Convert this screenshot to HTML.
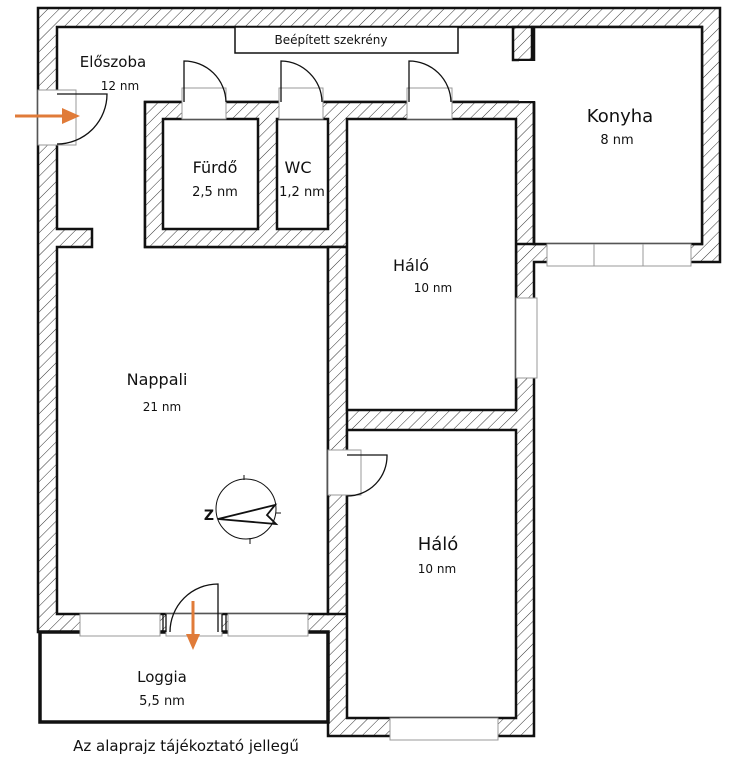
<!DOCTYPE html>
<html><head><meta charset="utf-8"><style>
body{margin:0;background:#fff;}
svg{display:block;}
text{font-family:"DejaVu Sans","Liberation Sans",sans-serif;fill:#111;text-anchor:middle;}
</style></head><body>
<svg width="756" height="768" viewBox="0 0 756 768" xmlns="http://www.w3.org/2000/svg">
<defs>
<pattern id="h" width="8" height="8" patternUnits="userSpaceOnUse" patternTransform="rotate(45)">
<rect width="8" height="8" fill="#fff"/><line x1="0" y1="0" x2="0" y2="8" stroke="#333" stroke-width="1"/>
</pattern>
</defs>
<!-- outer hatched mass -->
<polygon points="38,8 720,8 720,262 534,262 534,736 328,736 328,632 38,632" fill="url(#h)" stroke="#111" stroke-width="2.5"/>
<!-- hall + nappali -->
<polygon points="57,27 702,27 702,244 534,244 534,102 145,102 145,247 328,247 328,614 57,614 57,247 92,247 92,229 57,229" fill="#fff" stroke="#111" stroke-width="2.5"/>
<!-- inner block hatched -->
<polygon points="145,102 534,102 534,244 516,244 516,262 516,410 347,410 347,247 145,247" fill="url(#h)" stroke="#111" stroke-width="2.5"/>
<rect x="347" y="410" width="169" height="20" fill="url(#h)"/>
<rect x="328" y="247" width="19" height="367" fill="url(#h)" stroke="#111" stroke-width="2.5"/>
<!-- top stub -->
<rect x="513" y="27" width="19" height="33" fill="url(#h)" stroke="#111" stroke-width="2.5"/>
<!-- rooms -->
<rect x="163" y="119" width="95" height="110" fill="#fff" stroke="#111" stroke-width="2.5"/>
<rect x="277" y="119" width="51" height="110" fill="#fff" stroke="#111" stroke-width="2.5"/>
<rect x="347" y="119" width="169" height="291" fill="#fff" stroke="#111" stroke-width="2.5"/>
<rect x="347" y="430" width="169" height="288" fill="#fff" stroke="#111" stroke-width="2.5"/>
<rect x="534" y="27" width="168" height="217" fill="#fff" stroke="#111" stroke-width="2.5"/>
<polygon points="534,244 534,102 516,102" fill="none"/>
<!-- hall opening into kitchen -->
<rect x="519" y="61" width="26" height="40" fill="#fff"/>
<line x1="534" y1="102" x2="534" y2="244" stroke="#111" stroke-width="2.5"/>
<!-- loggia -->
<rect x="40" y="632" width="288" height="90" fill="#fff" stroke="#111" stroke-width="3.5"/>
<!-- cabinet -->
<rect x="235" y="27" width="223" height="26" fill="#fff" stroke="#111" stroke-width="1.5"/>
<text x="331" y="44" font-size="12">Beépített szekrény</text>
<!-- windows -->
<g fill="#fff" stroke="#999" stroke-width="1">
<rect x="547" y="244" width="47" height="22"/><rect x="594" y="244" width="49" height="22"/><rect x="643" y="244" width="48" height="22"/>
<rect x="516" y="298" width="21" height="80"/>
<rect x="390" y="718" width="108" height="22"/>
<rect x="80" y="614" width="80" height="22"/><rect x="228" y="614" width="80" height="22"/>
</g>
<!-- door frames -->
<g fill="#fff" stroke="#999" stroke-width="1">
<rect x="182" y="88" width="44" height="31"/><rect x="279" y="88" width="44" height="31"/><rect x="407" y="88" width="45" height="31"/>
<rect x="38" y="90" width="38" height="55"/>
<rect x="328" y="450" width="33" height="45"/>
<rect x="166" y="614" width="56" height="22"/>
</g>
<g fill="none" stroke="#111" stroke-width="1.3">
<path d="M184,102 V61 A42,42 0 0 1 226,102"/>
<path d="M281,102 V61 A42,42 0 0 1 322,102"/>
<path d="M409,102 V61 A42,42 0 0 1 451,102"/>
<path d="M57,144 A50,50 0 0 0 107,94 H57"/>
<path d="M347,496 A40,40 0 0 0 387,455 H347"/>
<path d="M170,632 A48,48 0 0 1 218,584 V632"/>
<line x1="163" y1="614" x2="163" y2="632"/><line x1="166" y1="614" x2="166" y2="632"/>
<line x1="222" y1="614" x2="222" y2="632"/><line x1="226" y1="614" x2="226" y2="632"/>
</g>
<!-- arrows -->
<g stroke="#e07b39" stroke-width="3" fill="#e07b39">
<line x1="15" y1="116" x2="66" y2="116"/><polygon points="62,108 80,116 62,124" stroke="none"/>
<line x1="193" y1="601" x2="193" y2="636"/><polygon points="186,634 193,650 200,634" stroke="none"/>
</g>
<!-- compass -->
<g fill="none" stroke="#111" stroke-width="1">
<circle cx="246" cy="509" r="30"/>
<line x1="244" y1="475" x2="244" y2="480"/><line x1="250" y1="538" x2="250" y2="544"/><line x1="276" y1="513" x2="281" y2="513"/>
<polygon points="218,519 275,505 267,515 276,524" stroke-width="1.8"/>
</g>
<text x="209" y="520" font-size="14" font-weight="bold">Z</text>
<!-- labels -->
<text x="113" y="67" font-size="15">Előszoba</text>
<text x="120" y="90" font-size="12">12 nm</text>
<text x="215" y="173" font-size="16">Fürdő</text>
<text x="215" y="196" font-size="13">2,5 nm</text>
<text x="298" y="173" font-size="16">WC</text>
<text x="302" y="196" font-size="13">1,2 nm</text>
<text x="620" y="122" font-size="18">Konyha</text>
<text x="617" y="144" font-size="13">8 nm</text>
<text x="411" y="271" font-size="16">Háló</text>
<text x="433" y="292" font-size="12">10 nm</text>
<text x="157" y="385" font-size="16">Nappali</text>
<text x="162" y="411" font-size="12">21 nm</text>
<text x="438" y="550" font-size="18">Háló</text>
<text x="437" y="573" font-size="12">10 nm</text>
<text x="162" y="682" font-size="15">Loggia</text>
<text x="162" y="705" font-size="13">5,5 nm</text>
<text x="186" y="751" font-size="15">Az alaprajz tájékoztató jellegű</text>
</svg>
</body></html>
